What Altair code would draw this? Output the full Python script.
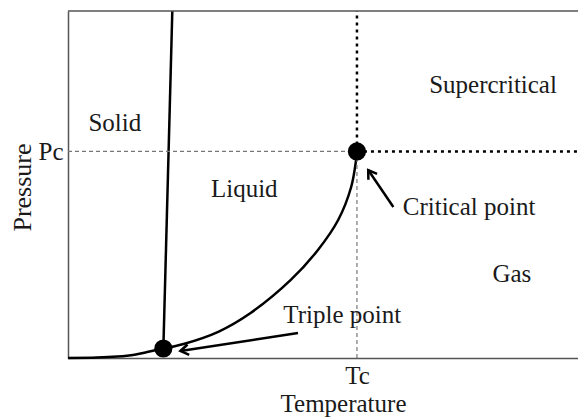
import altair as alt
import pandas as pd

FONT = "Liberation Serif"
FS = 25

# critical point and domain (arbitrary units)
T_c, P_c = 100, 100
T_max, P_max = 176.5, 168

# triple point
T_t, P_t = 33, 4.6

# sublimation curve (solid-gas)
sub_T = [0, 10, 17, 23, 27.4, 33]
sub_P = [0, 0.2, 0.7, 1.6, 2.9, 4.6]

# vaporization curve (liquid-gas)
vap_T = [33, 40, 52, 63.2, 77.1, 86.5, 93.5, 98.0, 99.7, 100]
vap_P = [4.6, 6.8, 12.7, 21.8, 37.8, 52.3, 66.8, 82.8, 95.9, 100]

# fusion curve (solid-liquid)
fus_T = [33, 36.1]
fus_P = [4.6, 168]

# region labels
lab_text = ["Solid", "Liquid", "Supercritical", "Critical point", "Gas", "Triple point"]
lab_T = [16.2, 61.0, 147.1, 138.8, 153.6, 94.9]
lab_P = [109.9, 78.1, 128.2, 69.2, 36.8, 16.9]

# arrows: tail -> head
arr_name = ["critical", "triple"]
arr_T0 = [112.6, 79.6]
arr_P0 = [73.1, 12.1]
arr_T1 = [103.9, 38.9]
arr_P1 = [91.0, 3.4]

xs = alt.Scale(domain=[0, T_max], nice=False, zero=False)
ys = alt.Scale(domain=[0, P_max], nice=False, zero=False)

def curve(T, P, name):
    return pd.DataFrame({"T": T, "P": P, "o": range(len(T)), "curve": name})

curves = pd.concat([
    curve(sub_T, sub_P, "sub"),
    curve(vap_T, vap_P, "vap"),
    curve(fus_T, fus_P, "fus"),
])

x_axis = alt.Axis(
    values=[T_c], labelExpr="'Tc'", title="Temperature", ticks=False, grid=False,
    domainColor="#555", domainWidth=1.5, labelFont=FONT, labelFontSize=FS,
    labelColor="#1a1a1a", labelBaseline="alphabetic", labelPadding=25,
    titleFont=FONT, titleFontSize=FS, titleFontWeight="normal", titleColor="#1a1a1a",
    titleX=275, titleY=53, titleBaseline="alphabetic", titleAlign="center",
)
y_axis = alt.Axis(
    values=[P_c], labelExpr="'Pc'", title="Pressure", ticks=False, grid=False,
    domainColor="#555", domainWidth=1.5, labelFont=FONT, labelFontSize=FS,
    labelColor="#1a1a1a", labelPadding=5,
    titleFont=FONT, titleFontSize=26, titleFontWeight="normal", titleColor="#1a1a1a",
    titleX=-38, titleY=176, titleBaseline="alphabetic", titleAlign="center", titleAngle=270,
)

def X(f):
    return alt.X(f, scale=xs, axis=x_axis)

def Y(f):
    return alt.Y(f, scale=ys, axis=y_axis)

lines = alt.Chart(curves).mark_line(color="black", strokeWidth=2.5, interpolate="catmull-rom").encode(
    x=X("T:Q"), y=Y("P:Q"), detail="curve:N", order="o:Q",
)

# top border
top = alt.Chart(pd.DataFrame({"P": [P_max]})).mark_rule(color="#555", strokeWidth=1.5).encode(
    y=Y("P:Q"),
)

# reference lines
ref = pd.DataFrame({
    "T": [0, T_c, T_c, T_c],
    "T2": [T_c, T_max + 5, T_c, T_c],
    "P": [P_c, P_c, 0, P_c],
    "P2": [P_c, P_c, P_c, P_max],
    "kind": ["thin", "thick", "thin", "thick"],
})
thin = alt.Chart(ref[ref.kind == "thin"]).mark_rule(color="#777", strokeWidth=1.2, strokeDash=[4, 3]).encode(
    x=X("T:Q"), x2="T2:Q", y=Y("P:Q"), y2="P2:Q",
)
thick = alt.Chart(ref[ref.kind == "thick"]).mark_rule(color="black", strokeWidth=2.5, strokeDash=[3, 4]).encode(
    x=X("T:Q"), x2="T2:Q", y=Y("P:Q"), y2="P2:Q",
)

pts = alt.Chart(pd.DataFrame({"T": [T_t, T_c], "P": [P_t, P_c]})).mark_point(
    shape="circle", filled=True, color="black", size=330, opacity=1
).encode(x=X("T:Q"), y=Y("P:Q"))

arr = pd.DataFrame({"name": arr_name, "T0": arr_T0, "P0": arr_P0, "T1": arr_T1, "P1": arr_P1})
shafts = alt.Chart(arr).mark_rule(color="black", strokeWidth=2.5).encode(
    x=X("T0:Q"), x2="T1:Q", y=Y("P0:Q"), y2="P1:Q",
)
head_shape = "M -1 -0.65 L 0 0 L -1 0.65"
head_crit = alt.Chart(arr[arr.name == "critical"]).mark_point(
    shape=head_shape, filled=False, color="black", strokeWidth=2.5, size=260, angle=236, opacity=1
).encode(x=X("T1:Q"), y=Y("P1:Q"))
head_trip = alt.Chart(arr[arr.name == "triple"]).mark_point(
    shape=head_shape, filled=False, color="black", strokeWidth=2.5, size=260, angle=171, opacity=1
).encode(x=X("T1:Q"), y=Y("P1:Q"))

labels = alt.Chart(pd.DataFrame({"t": lab_text, "T": lab_T, "P": lab_P})).mark_text(
    font=FONT, fontSize=FS, color="#1a1a1a", align="center", baseline="alphabetic"
).encode(x=X("T:Q"), y=Y("P:Q"), text="t:N")

chart = alt.layer(lines, thin, thick, top, shafts, head_crit, head_trip, pts, labels).properties(
    width=510, height=347,
    padding={"left": 60, "top": 3, "right": 0, "bottom": 59},
    autosize=alt.AutoSizeParams(type="none"),
    background="white",
).configure_view(strokeWidth=0)

chart.save("out.html", embed_options={"renderer": "svg", "actions": False})
